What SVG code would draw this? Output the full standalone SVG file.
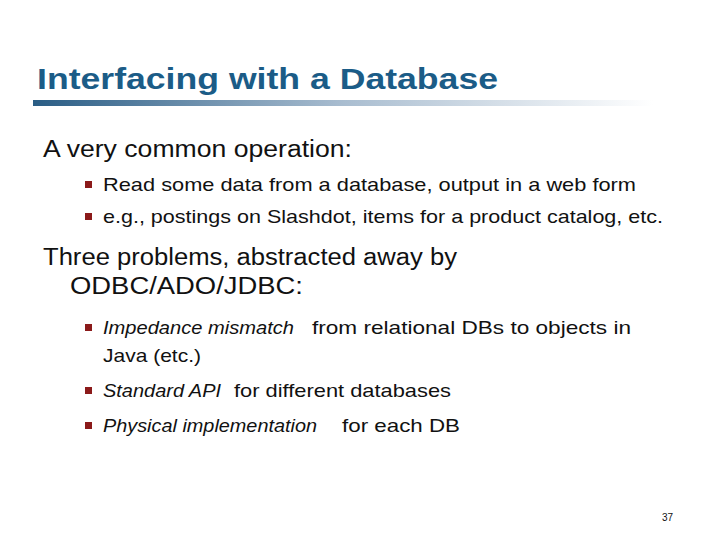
<svg xmlns="http://www.w3.org/2000/svg" width="720" height="540" viewBox="0 0 720 540">
<style>
text{font-family:"Liberation Sans","DejaVu Sans",sans-serif;fill:#111}
.t{font-size:30px;font-weight:bold;fill:#1b5c87}
.l1{font-size:23px}
.l2{font-size:19px}
.i{font-style:italic}
.b{fill:#8b1a1a}
</style>
<defs><linearGradient id="g" x1="0" x2="1"><stop offset="0" stop-color="#2a5d85"/><stop offset="0.5" stop-color="#a9bdd0"/><stop offset="1" stop-color="#ffffff"/></linearGradient></defs>
<rect width="720" height="540" fill="#fff"/>
<text class="t" x="37" y="89" textLength="461" lengthAdjust="spacingAndGlyphs">Interfacing with a Database</text>
<rect x="33" y="100" width="620" height="6" fill="url(#g)"/>
<text class="l1" x="43" y="157" textLength="309" lengthAdjust="spacingAndGlyphs">A very common operation:</text>
<rect class="b" x="85" y="181" width="7" height="7"/>
<text class="l2" x="103" y="191" textLength="533" lengthAdjust="spacingAndGlyphs">Read some data from a database, output in a web form</text>
<rect class="b" x="85" y="213" width="7" height="7"/>
<text class="l2" x="103" y="223" textLength="560" lengthAdjust="spacingAndGlyphs">e.g., postings on Slashdot, items for a product catalog, etc.</text>
<text class="l1" x="43" y="265" textLength="414" lengthAdjust="spacingAndGlyphs">Three problems, abstracted away by</text>
<text class="l1" x="70" y="294" textLength="233" lengthAdjust="spacingAndGlyphs">ODBC/ADO/JDBC:</text>
<rect class="b" x="85" y="324" width="7" height="7"/>
<text class="l2 i" x="103" y="334" textLength="191" lengthAdjust="spacingAndGlyphs">Impedance mismatch</text>
<text class="l2" x="312" y="334" textLength="319" lengthAdjust="spacingAndGlyphs">from relational DBs to objects in</text>
<text class="l2" x="103" y="362" textLength="98" lengthAdjust="spacingAndGlyphs">Java (etc.)</text>
<rect class="b" x="85" y="387" width="7" height="7"/>
<text class="l2 i" x="103" y="397" textLength="118" lengthAdjust="spacingAndGlyphs">Standard API</text>
<text class="l2" x="234" y="397" textLength="217" lengthAdjust="spacingAndGlyphs">for different databases</text>
<rect class="b" x="85" y="422" width="7" height="7"/>
<text class="l2 i" x="103" y="432" textLength="214" lengthAdjust="spacingAndGlyphs">Physical implementation</text>
<text class="l2" x="342" y="432" textLength="118" lengthAdjust="spacingAndGlyphs">for each DB</text>
<text x="662" y="521" font-size="10" fill="#555">37</text>
</svg>
